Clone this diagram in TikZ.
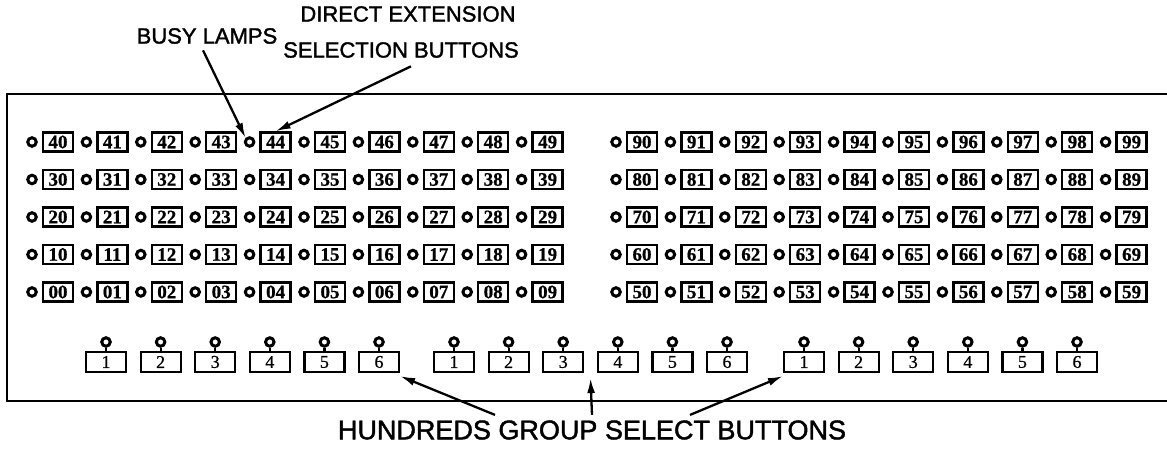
\documentclass[tikz,border=0pt]{standalone}
\usepackage{fontspec}
\setmainfont{Liberation Serif}
\newfontfamily\labelfont[FakeBold=1.6]{Liberation Sans}
\newfontfamily\keyfont[FakeBold=0.8]{Liberation Serif Bold}
\newfontfamily\groupfont[FakeBold=0.8]{Liberation Serif}
\usetikzlibrary{arrows.meta,calc}
\begin{document}
\begin{tikzpicture}[x=1pt,y=-1pt,
  lampc/.style={circle,draw,line width=3pt,minimum size=8.5pt,inner sep=0pt},
  extkey/.style={draw,line width=2.3pt,minimum width=30pt,minimum height=19pt,inner sep=0pt,
    font=\keyfont\fontsize{19}{19}\selectfont},
  grpkey/.style={draw,line width=2.2pt,minimum width=40pt,minimum height=20pt,inner sep=0pt,
    font=\groupfont\fontsize{18}{18}\selectfont},
  callout/.style={font=\labelfont\fontsize{22}{22}\selectfont},
  pointer/.style={line width=2.3pt,-{Latex[length=15pt,width=8pt]}}]
\useasboundingbox (0,0) rectangle (1167,449);

% console panel outline (open on the right)
\draw[line width=2.3pt] (1167,94) -- (7,94) -- (7,401) -- (1167,401);

% direct extension selection buttons with busy lamps
\foreach \r/\tl/\tr in {0/4/9,1/3/8,2/2/7,3/1/6,4/0/5} {
  \foreach \c in {0,...,9} {
    \node[lampc] (L\tl\c) at ({32+54.4*\c},{142+37.5*\r}) {};
    \node[extkey] (K\tl\c) at ({58+54.4*\c},{142+37.5*\r}) {\tl\c};
    \node[lampc] (L\tr\c) at ({616+54.4*\c},{142+37.5*\r}) {};
    \node[extkey] (K\tr\c) at ({642+54.4*\c},{142+37.5*\r}) {\tr\c};
  }
}

% hundreds group select buttons
\foreach \g/\xs in {1/106,2/454,3/804} {
  \foreach \n in {1,...,6} {
    \node[grpkey] (G\g B\n) at ({\xs+54.6*(\n-1)},362) {\n};
    \node[lampc] (G\g L\n) at ({\xs+54.6*(\n-1)},342) {};
    \draw[line width=2.2pt] (G\g L\n) -- (G\g B\n);
  }
}

% callouts
\node[callout] (busy) at (207,36) {BUSY LAMPS};
\node[callout] (dext) at (408,14) {DIRECT EXTENSION};
\node[callout] (dsel) at (401,50) {SELECTION BUTTONS};
\node[font=\labelfont\fontsize{27}{27}\selectfont] (hund) at (592,430) {HUNDREDS GROUP SELECT BUTTONS};

\draw[pointer] ($(busy.south)+(-4,3)$) -- (L44.north west);
\draw[pointer] ($(dsel.south)+(10,5)$) -- (K44.north);
\draw[pointer] ($(hund.north)+(-97,-2)$) -- ($(G1B6.south east)+(0,3)$);
\draw[pointer] ($(hund.north)+(0,-2)$) -- ($(G2B3.south east)!0.5!(G2B4.south west)+(0,5)$);
\draw[pointer] ($(hund.north)+(98,-2)$) -- ($(G3B1.south west)+(0,3)$);
\end{tikzpicture}
\end{document}
